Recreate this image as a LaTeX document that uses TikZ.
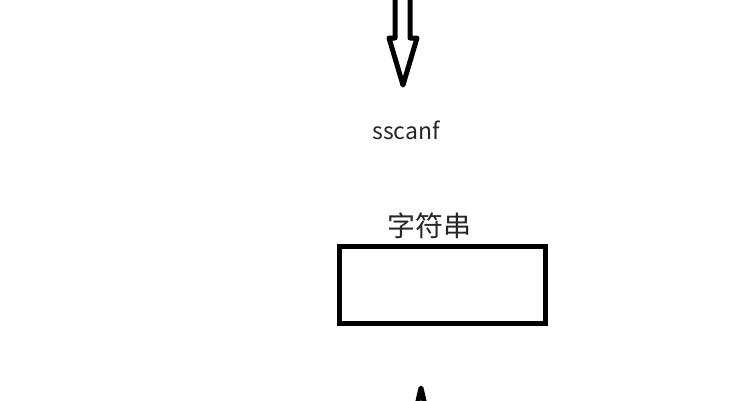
\documentclass[tikz,border=0pt]{standalone}
\usepackage{fontspec}
\setmainfont{Noto Sans CJK SC}
\usetikzlibrary{positioning}

\begin{document}
\begin{tikzpicture}[x=1pt, y=-1pt,
        hollowarrow/.style={line width=5pt, line join=round, fill=white},
        strbox/.style={draw, line width=5pt, minimum width=206pt, minimum height=77pt, inner sep=0pt}]
        \useasboundingbox (0,0) rectangle (750,400);
        \clip (0,0) rectangle (750,400);

        % top arrow down to sscanf
        \coordinate (topin) at (403,85);
        \draw[hollowarrow] (395,-8) -- (395,38) -- (389,38) -- (topin) -- (417,38) -- (410,38) -- (410,-8);

        \node[text=black!85] (fn) at (406,130) {\fontsize{23pt}{26pt}\selectfont sscanf};

        \node[strbox] (str) at (442,284.5) {};
        \node[text=black!85] (strlabel) at (429,226) {\fontsize{28pt}{31pt}\selectfont 字符串};

        % bottom arrow up to the string box
        \coordinate (botin) at (421,388);
        \draw[hollowarrow] (415,440) -- (409,440) -- (botin) -- (433,440) -- (427,440);
\end{tikzpicture}
\end{document}
